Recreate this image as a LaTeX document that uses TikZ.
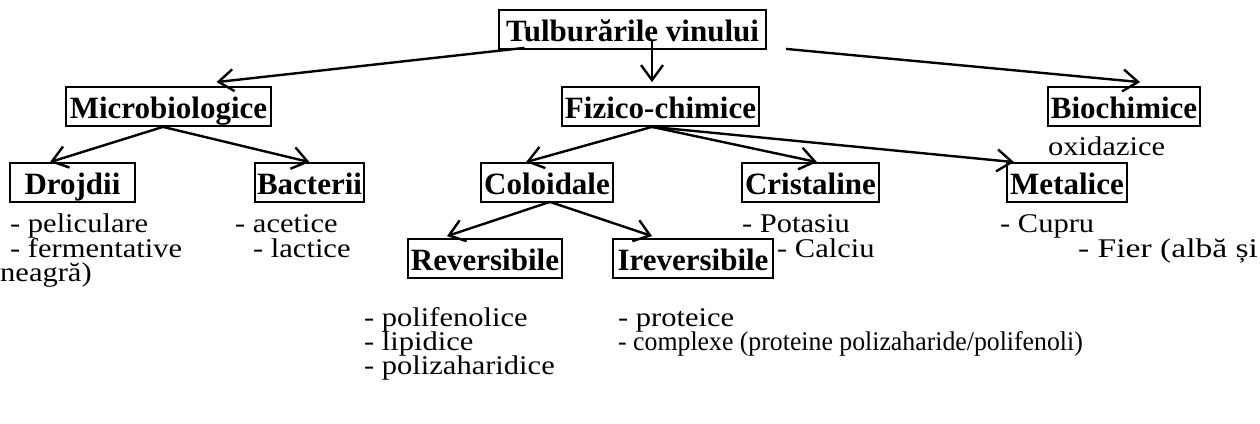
\documentclass[tikz,border=0pt]{standalone}
\usepackage{fontspec}
\usepackage{graphicx}
\setmainfont{Liberation Serif}
\newfontfamily\regfont{Liberation Serif}[FakeStretch=1.13]
\usetikzlibrary{arrows.meta}
\newcommand\stk[2][25pt]{\vtop{\lineskiplimit=-100pt\relax\baselineskip=#1\relax #2}}
\begin{document}
\begin{tikzpicture}[x=1pt,y=-1pt,
  box/.style={draw, line width=1.8pt, font=\fontsize{31}{36}\selectfont\bfseries,
    inner xsep=0pt, inner ysep=0pt, text height=31pt, text depth=8pt, anchor=base},
  txt/.style={font=\regfont\fontsize{27}{25}\selectfont, inner sep=0pt, anchor=base west},
  arr/.style={line width=2.4pt, -{Straight Barb[length=15pt,width=22pt,line width=2.4pt]}}]
\useasboundingbox (0,0) rectangle (1260,423);
% boxes
\node[box, minimum width=267pt] (T)  at (632.5,41) {Tulburările vinului};
\node[box, minimum width=205pt] (M)  at (168.5,118) {Microbiologice};
\node[box, minimum width=197pt] (F)  at (660.5,118) {Fizico-chimice};
\node[box, minimum width=152pt] (B)  at (1124,118) {Biochimice};
\node[box, minimum width=125pt] (D)  at (72.5,194) {Drojdii};
\node[box, minimum width=109pt] (Ba) at (309.5,194) {Bacterii};
\node[box, minimum width=132pt] (C)  at (547,194) {Coloidale};
\node[box, minimum width=137pt] (Cr) at (810.5,194) {Cristaline};
\node[box, minimum width=120pt] (Me) at (1067,194) {Metalice};
\node[box, minimum width=154pt] (R)  at (485,270) {Reversibile};
\node[box, minimum width=160pt] (I)  at (693,270) {Ireversibile};
% texts
\node[txt] (ox) at (1048,155) {oxidazice};
\node[txt] (dl) at (10,232) {\stk{\hbox{- peliculare}\hbox{- fermentative}}};
\node[txt] (bl) at (235,232) {\stk{\hbox{- acetice}\hbox{\hskip18pt - lactice}}};
\node[txt] (n1) at (0,281) {neagră)};
\node[txt] (kl) at (742,232) {\stk{\hbox{- Potasiu}\hbox{\hskip35pt - Calciu}}};
\node[txt] (m1) at (1000,232) {- Cupru};
\node[txt] (m2) at (1078,257) {\scalebox{1.1}[1]{- Fier (albă și}};
\node[txt] (rl) at (364,326) {\stk[24pt]{\hbox{- polifenolice}\hbox{- lipidice}\hbox{- polizaharidice}}};
\node[txt] (il) at (618,326) {\stk[24pt]{\hbox{- proteice}\hbox{\scalebox{0.845}[1]{- complexe (proteine polizaharide/polifenoli)}}}};
% arrows
\draw[arr] ([shift={(-108,-2)}]T.south) -- ([shift={(48,-4)}]M.north);
\draw[arr] ([shift={(19.5,-9)}]T.south) -- ([shift={(-8.5,-4)}]F.north);
\draw[arr] ([shift={(19,-1)}]T.south east) -- ([shift={(16,-4)}]B.north);
\draw[arr] ([shift={(-5.5,0)}]M.south) -- ([shift={(-22.5,0)}]D.north);
\draw[arr] ([shift={(-5.5,0)}]M.south) -- (Ba.north);
\draw[arr] ([shift={(-8.5,0)}]F.south) -- ([shift={(-21,0)}]C.north);
\draw[arr] ([shift={(-8.5,0)}]F.south) -- ([shift={(6.5,0)}]Cr.north);
\draw[arr] ([shift={(-8.5,0)}]F.south) -- ([shift={(-53,0)}]Me.north);
\draw[arr] ([shift={(3,-1)}]C.south) -- ([shift={(-38,-2)}]R.north);
\draw[arr] ([shift={(3,-1)}]C.south) -- ([shift={(-41,-2)}]I.north);
\end{tikzpicture}
\end{document}
